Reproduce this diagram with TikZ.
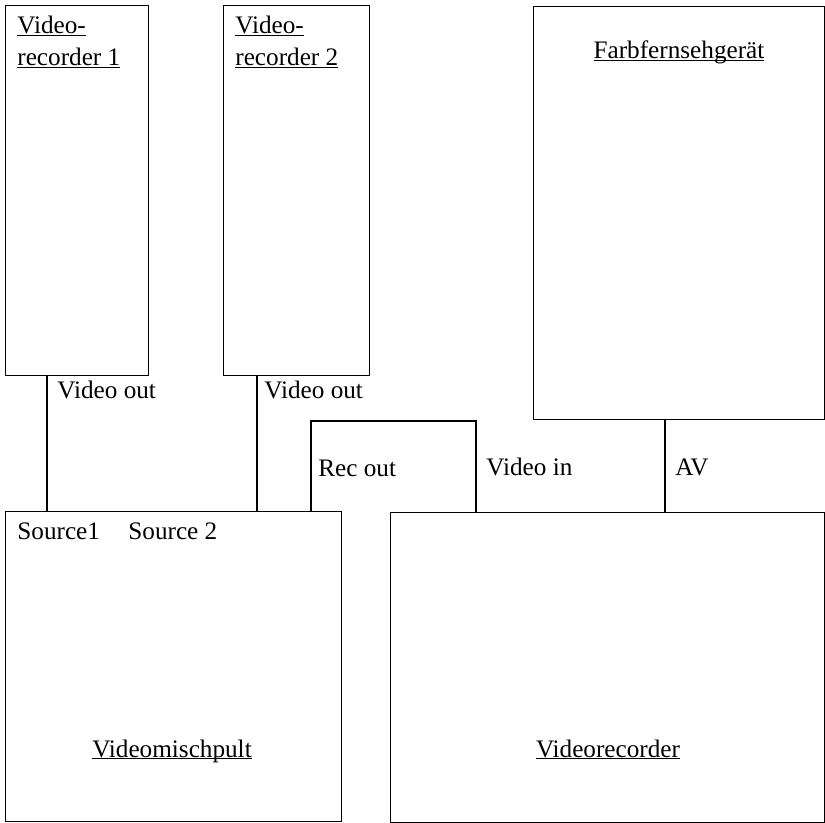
\documentclass[tikz,border=0pt]{standalone}
\usepackage{fontspec}
\setmainfont{Liberation Serif}
\newcommand{\ulx}[1]{\setbox0\hbox{#1}\rlap{\rule[-1.2pt]{\wd0}{0.7pt}}\box0}
\begin{document}
\begin{tikzpicture}[x=0.5pt,y=-0.5pt,
  box/.style={draw, line width=0.5pt, inner sep=0pt, outer sep=0pt},
  wire/.style={line width=1pt},
  lbl/.style={anchor=base west, inner sep=0pt, font=\fontsize{12.6}{14}\selectfont},
  ttl/.style={anchor=base, inner sep=0pt, font=\fontsize{12.6}{14}\selectfont}]
\useasboundingbox (0,0) rectangle (825,823);
% boxes
\node[box, minimum width=71.5pt, minimum height=185pt] (vr1) at (76.5,191) {};
\node[box, minimum width=73pt, minimum height=185pt] (vr2) at (296,191) {};
\node[box, minimum width=145.5pt, minimum height=206.5pt] (tv) at (678.5,213.5) {};
\node[box, minimum width=168pt, minimum height=154.5pt] (mix) at (173,666.5) {};
\node[box, minimum width=217pt, minimum height=154.5pt] (vrec) at (607,667.5) {};
% titles
\node[lbl] (t1a) at (17,34) {\ulx{Video-}};
\node[lbl] (t1b) at (17,66) {\ulx{recorder 1}};
\node[lbl] (t2a) at (235,34) {\ulx{Video-}};
\node[lbl] (t2b) at (235,66) {\ulx{recorder 2}};
\node[ttl] (t3) at (679,59) {\ulx{Farbfernsehgerät}};
\node[ttl] (t4) at (172,757) {\ulx{Videomischpult}};
\node[ttl] (t5) at (608,757) {\ulx{Videorecorder}};
% connector x positions
\coordinate (x1) at (47,0);
\coordinate (x2) at (257,0);
\coordinate (r1) at (311,421);
\coordinate (x4) at (476,0);
\coordinate (x5) at (665,0);
\draw[wire] (vr1.south -| x1) -- (mix.north -| x1);
\draw[wire] (vr2.south -| x2) -- (mix.north -| x2);
\draw[wire] (mix.north -| r1) -- (r1) -| (vrec.north -| x4);
\draw[wire] (tv.south -| x5) -- (vrec.north -| x5);
% labels
\node[lbl] (l1) at (57,399) {Video out};
\node[lbl] (l2) at (264,399) {Video out};
\node[lbl] (l3) at (318,477) {Rec out};
\node[lbl] (l4) at (486,476) {Video in};
\node[lbl] (l5) at (675,476) {AV};
\node[lbl] (l6) at (17,540) {Source1};
\node[lbl] (l7) at (128,540) {Source 2};
\end{tikzpicture}
\end{document}
